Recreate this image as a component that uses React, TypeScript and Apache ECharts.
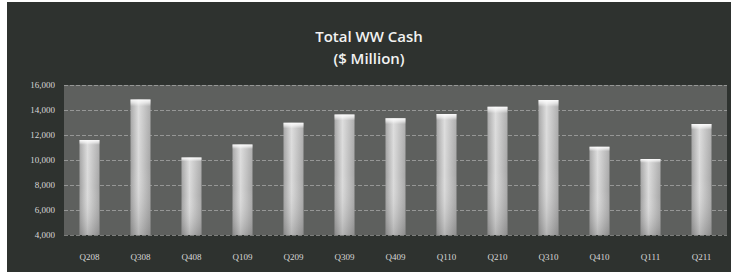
import React, { useEffect, useRef } from "react";
import * as echarts from "echarts";

const categories = ["Q208", "Q308", "Q408", "Q109", "Q209", "Q309", "Q409", "Q110", "Q210", "Q310", "Q410", "Q111", "Q211"];
const cashValues = [11600, 14850, 10200, 11250, 12980, 13650, 13340, 13680, 14260, 14800, 11060, 10080, 12880];
const yTicks = [4000, 6000, 8000, 10000, 12000, 14000, 16000];

export default function App() {
  const ref = useRef<HTMLDivElement>(null);
  useEffect(() => {
    if (!ref.current) return;
    const chart = echarts.init(ref.current, null, { renderer: "svg" });
    chart.setOption({
      animation: false,
      backgroundColor: "#2e322f",
      title: {
        text: "Total WW Cash\n($ Million)",
        left: "center",
        top: 18,
        textStyle: {
          color: "#f2f2f2",
          fontSize: 15,
          fontWeight: 600,
          fontFamily: "Open Sans",
          lineHeight: 22,
        },
      },
      grid: { left: 57, right: 4, top: 83, bottom: 37, backgroundColor: "#5e605e", show: true, borderWidth: 0 },
      xAxis: {
        type: "category",
        data: categories,
        axisLine: { show: false },
        axisTick: { show: false },
        axisLabel: { color: "#d8d8d8", fontFamily: "Liberation Serif", fontSize: 9, margin: 17 },
      },
      yAxis: {
        type: "value",
        min: yTicks[0],
        max: yTicks[yTicks.length - 1],
        interval: 2000,
        axisLine: { show: false },
        axisTick: { show: false },
        axisLabel: {
          color: "#d8d8d8",
          fontFamily: "Liberation Serif",
          fontSize: 9,
          margin: 9,
          formatter: (v: number) => v.toLocaleString("en-US"),
        },
        splitLine: { lineStyle: { color: "rgba(220,220,220,0.45)", type: "dashed", width: 1 } },
      },
      series: [
        {
          type: "bar",
          data: cashValues,
          barWidth: 20,
          itemStyle: {
            color: new echarts.graphic.LinearGradient(0, 0, 1, 0, [
              { offset: 0, color: "#a0a0a0" },
              { offset: 0.4, color: "#dadada" },
              { offset: 1, color: "#a6a6a6" },
            ]),
          },
        },
        {
          type: "bar",
          data: cashValues,
          barWidth: 20,
          barGap: "-100%",
          itemStyle: {
            color: new echarts.graphic.LinearGradient(0, 0, 0, 1, [
              { offset: 0, color: "rgba(255,255,255,0.95)" },
              { offset: 0.025, color: "rgba(255,255,255,0.6)" },
              { offset: 0.05, color: "rgba(255,255,255,0.1)" },
              { offset: 0.5, color: "rgba(255,255,255,0)" },
              { offset: 1, color: "rgba(60,60,60,0.25)" },
            ]),
          },
          silent: true,
        },
      ],
    });
    return () => chart.dispose();
  }, []);
  return (
    <div style={{ position: "fixed", left: 0, top: 0, width: 731, height: 276, background: "#ffffff" }}>
      <div ref={ref} style={{ position: "absolute", left: 7, top: 2, width: 724, height: 270 }} />
    </div>
  );
}
